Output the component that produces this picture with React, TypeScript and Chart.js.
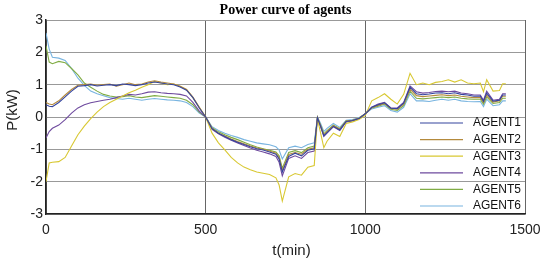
import React, { useEffect, useRef } from "react";
import { Chart, registerables } from "chart.js";

Chart.register(...registerables);

const TITLE = "Power curve of agents";
const X_TITLE = "t(min)";
const Y_TITLE = "P(kW)";
const X_TICKS = [0, 500, 1000, 1500];
const Y_TICKS = [-3, -2, -1, 0, 1, 2, 3];

const TIMES = [
  0, 10, 20, 40, 60, 80, 100, 120, 140, 160, 180, 200, 220, 240, 260, 280, 300, 320, 340, 360, 380, 400, 420, 440, 460, 480, 500,
  520, 540, 560, 580, 600, 620, 640, 660, 680, 700, 720, 730, 740, 760, 780, 800, 820, 840,
  850, 860, 870, 880, 900, 920, 940, 960, 980, 1000,
  1020, 1040, 1060, 1080, 1100, 1120, 1140, 1160, 1180, 1200, 1220, 1240, 1260, 1280, 1300, 1320, 1340, 1360, 1370, 1380, 1400, 1420, 1430, 1440,
];

const AGENT1 = [
  0.38, 0.33, 0.32, 0.45, 0.62, 0.8, 0.95, 0.97, 1.0, 0.96, 0.98, 1.0, 0.97, 1.02, 1.0, 0.97, 1.0, 1.05, 1.08, 1.05, 1.02, 1.0, 0.93, 0.83, 0.6, 0.28, 0,
  -0.36, -0.5, -0.6, -0.7, -0.78, -0.85, -0.92, -0.98, -1.02, -1.08, -1.15, -1.3, -1.7, -1.22, -1.12, -1.2, -1.03, -0.98,
  -0.03, -0.29, -0.58, -0.48, -0.29, -0.4, -0.14, -0.11, -0.05, 0.1,
  0.3, 0.38, 0.44, 0.27, 0.26, 0.43, 0.92, 0.72, 0.69, 0.71, 0.74, 0.75, 0.72, 0.75, 0.7, 0.68, 0.64, 0.65, 0.48, 0.74, 0.49, 0.52, 0.68, 0.68,
];
const AGENT2 = [
  0.45, 0.4, 0.38, 0.5, 0.68, 0.85, 0.98, 1.0, 1.02, 0.98, 1.0, 1.02, 0.95, 1.0, 1.05, 1.0, 1.02, 1.08, 1.12, 1.08, 1.05, 1.02, 0.95, 0.85, 0.62, 0.3, 0,
  -0.35, -0.5, -0.59, -0.68, -0.76, -0.83, -0.9, -0.96, -1.0, -1.05, -1.12, -1.26, -1.65, -1.16, -1.1, -1.15, -1.0, -0.95,
  -0.02, -0.28, -0.55, -0.45, -0.27, -0.38, -0.13, -0.1, -0.04, 0.1,
  0.29, 0.36, 0.42, 0.26, 0.24, 0.4, 0.86, 0.66, 0.63, 0.65, 0.67, 0.69, 0.66, 0.68, 0.64, 0.62, 0.6, 0.6, 0.45, 0.68, 0.46, 0.5, 0.64, 0.64,
];
const AGENT3 = [
  -2.0, -1.42, -1.4, -1.38, -1.25, -0.9, -0.55, -0.28, -0.05, 0.15, 0.32, 0.45, 0.55, 0.65, 0.75, 0.83, 0.92, 1.0, 1.1, 1.05, 1.0, 1.02, 0.95, 0.85, 0.6, 0.3, 0,
  -0.5, -0.8, -1.02, -1.25, -1.42, -1.55, -1.63, -1.7, -1.74, -1.78, -1.88, -2.1, -2.6, -1.85, -1.75, -1.8, -1.55, -1.5,
  -0.05, -0.5, -0.95, -0.75, -0.5, -0.6, -0.2, -0.15, -0.08, 0.05,
  0.5, 0.6, 0.72, 0.55, 0.4, 0.7, 1.35, 1.0, 1.05, 1.0, 1.07, 1.1, 1.15, 1.08, 1.15, 1.05, 1.03, 1.05, 0.78, 1.15, 0.8, 0.82, 1.03, 1.03,
];
const AGENT4 = [
  -0.65, -0.45, -0.35, -0.25, -0.08, 0.12, 0.28, 0.38, 0.44, 0.48, 0.52, 0.55, 0.6, 0.65, 0.7, 0.68, 0.72, 0.77, 0.78, 0.75, 0.73, 0.72, 0.7, 0.65, 0.45, 0.18, 0,
  -0.38, -0.52, -0.63, -0.72, -0.8, -0.88, -0.96, -1.03, -1.08, -1.14, -1.22, -1.4, -1.82, -1.28, -1.2, -1.28, -1.1, -1.05,
  -0.03, -0.3, -0.6, -0.5, -0.3, -0.42, -0.15, -0.12, -0.05, 0.1,
  0.3, 0.4, 0.45, 0.28, 0.28, 0.45, 0.96, 0.78, 0.74, 0.76, 0.79, 0.8, 0.78, 0.8, 0.74, 0.72, 0.68, 0.68, 0.52, 0.8, 0.52, 0.55, 0.72, 0.72,
];
const AGENT5 = [
  2.2, 1.7, 1.65, 1.72, 1.68, 1.5, 1.3, 1.05, 0.92, 0.8, 0.7, 0.65, 0.62, 0.63, 0.66, 0.62, 0.6, 0.63, 0.66, 0.64, 0.62, 0.6, 0.58, 0.52, 0.38, 0.15, 0,
  -0.33, -0.46, -0.55, -0.63, -0.7, -0.78, -0.86, -0.93, -0.98, -1.03, -1.08, -1.2, -1.58, -1.1, -1.04, -1.1, -0.95, -0.9,
  -0.02, -0.25, -0.52, -0.42, -0.25, -0.36, -0.12, -0.1, -0.04, 0.1,
  0.28, 0.33, 0.4, 0.24, 0.2, 0.35, 0.8, 0.58, 0.56, 0.58, 0.6, 0.62, 0.6, 0.62, 0.58, 0.56, 0.55, 0.55, 0.4, 0.62, 0.42, 0.45, 0.58, 0.58,
];
const AGENT6 = [
  2.6, 2.1, 1.85, 1.82, 1.75, 1.5, 1.2, 0.98, 0.8, 0.72, 0.66, 0.6, 0.57, 0.55, 0.58, 0.55, 0.52, 0.55, 0.57, 0.55, 0.53, 0.52, 0.5, 0.45, 0.32, 0.12, 0,
  -0.3, -0.42, -0.5, -0.57, -0.63, -0.7, -0.75, -0.8, -0.83, -0.86, -0.92, -1.02, -1.3, -0.95, -0.9, -0.95, -0.85, -0.8,
  0, -0.2, -0.45, -0.35, -0.2, -0.32, -0.1, -0.08, -0.02, 0.1,
  0.25, 0.3, 0.35, 0.2, 0.15, 0.3, 0.72, 0.5, 0.5, 0.48, 0.52, 0.55, 0.52, 0.55, 0.5, 0.48, 0.47, 0.48, 0.32, 0.55, 0.35, 0.38, 0.5, 0.5,
];

const SERIES_NAMES = ["AGENT1", "AGENT2", "AGENT3", "AGENT4", "AGENT5", "AGENT6"];
const SERIES_VALUES = [AGENT1, AGENT2, AGENT3, AGENT4, AGENT5, AGENT6];
const SERIES_COLORS = ["#34449e", "#b48a3c", "#d8c832", "#6e4a9e", "#80ac44", "#78b4e0"];

const SANS = "'Liberation Sans', Arial, sans-serif";

const decorPlugin = {
  id: "decor",
  afterDraw(chart: any) {
    const { ctx, chartArea } = chart;
    ctx.save();
    // title
    ctx.fillStyle = "#000";
    ctx.font = "bold 14px 'Liberation Serif', 'Times New Roman', serif";
    ctx.textAlign = "center";
    ctx.textBaseline = "middle";
    ctx.fillText(TITLE, (chartArea.left + chartArea.right) / 2, 10);
    // axis titles
    ctx.font = `15px ${SANS}`;
    ctx.fillStyle = "#222";
    ctx.fillText(X_TITLE, (chartArea.left + chartArea.right) / 2 + 6, 251);
    ctx.save();
    ctx.translate(13, 110);
    ctx.rotate(-Math.PI / 2);
    ctx.fillText(Y_TITLE, 0, 0);
    ctx.restore();
    // legend
    ctx.font = `12px ${SANS}`;
    ctx.textAlign = "left";
    const x0 = chartArea.right - 105;
    for (let i = 0; i < SERIES_NAMES.length; i++) {
      const y = chartArea.top + 103 + i * 16.6;
      ctx.strokeStyle = SERIES_COLORS[i];
      ctx.lineWidth = 1.2;
      ctx.beginPath();
      ctx.moveTo(x0, y);
      ctx.lineTo(x0 + 43, y);
      ctx.stroke();
      ctx.fillStyle = "#111";
      ctx.fillText(SERIES_NAMES[i], x0 + 53, y);
    }
    ctx.restore();
  },
};

export default function App() {
  const ref = useRef<HTMLCanvasElement | null>(null);
  useEffect(() => {
    if (!ref.current) return;
    const datasets = SERIES_NAMES.map((name, i) => ({
      label: name,
      data: TIMES.map((t, j) => ({ x: t, y: SERIES_VALUES[i][j] })),
      borderColor: SERIES_COLORS[i],
      backgroundColor: SERIES_COLORS[i],
      borderWidth: 1.1,
      pointRadius: 0,
      tension: 0,
    }));
    const chart = new Chart(ref.current, {
      type: "line",
      data: { datasets },
      options: {
        responsive: false,
        animation: false,
        devicePixelRatio: 1,
        layout: { padding: { top: 20, right: 25, left: 0, bottom: 0 } },
        plugins: { legend: { display: false }, tooltip: { enabled: false }, title: { display: false } },
        scales: {
          x: {
            type: "linear",
            min: X_TICKS[0],
            max: X_TICKS[X_TICKS.length - 1],
            afterFit: (s: any) => { s.height = 50; },
            afterBuildTicks: (s: any) => { s.ticks = X_TICKS.map((v) => ({ value: v })); },
            ticks: {
              stepSize: 500, padding: 8, maxRotation: 0, color: "#222", font: { family: SANS, size: 14 },
              callback: (v: any) => String(v),
            },
            grid: { color: "#666", drawTicks: false, lineWidth: 1 },
            border: { color: "#222", width: 1.5 },
          },
          y: {
            type: "linear",
            min: Y_TICKS[0],
            max: Y_TICKS[Y_TICKS.length - 1],
            afterFit: (s: any) => { s.width = 46; },
            afterBuildTicks: (s: any) => { s.ticks = Y_TICKS.map((v) => ({ value: v })); },
            ticks: { stepSize: 1, padding: 3, color: "#222", font: { family: SANS, size: 14 }, callback: (v: any) => String(v) },
            grid: { color: "#999", drawTicks: false, lineWidth: 1 },
            border: { color: "#222", width: 1.5 },
          },
        },
      },
      plugins: [decorPlugin],
    });
    return () => chart.destroy();
  }, []);
  return (
    <div style={{ position: "absolute", left: 0, top: 0, width: 550, height: 264, background: "#fff" }}>
      <canvas ref={ref} width={550} height={264} style={{ display: "block", width: 550, height: 264 }} />
    </div>
  );
}
